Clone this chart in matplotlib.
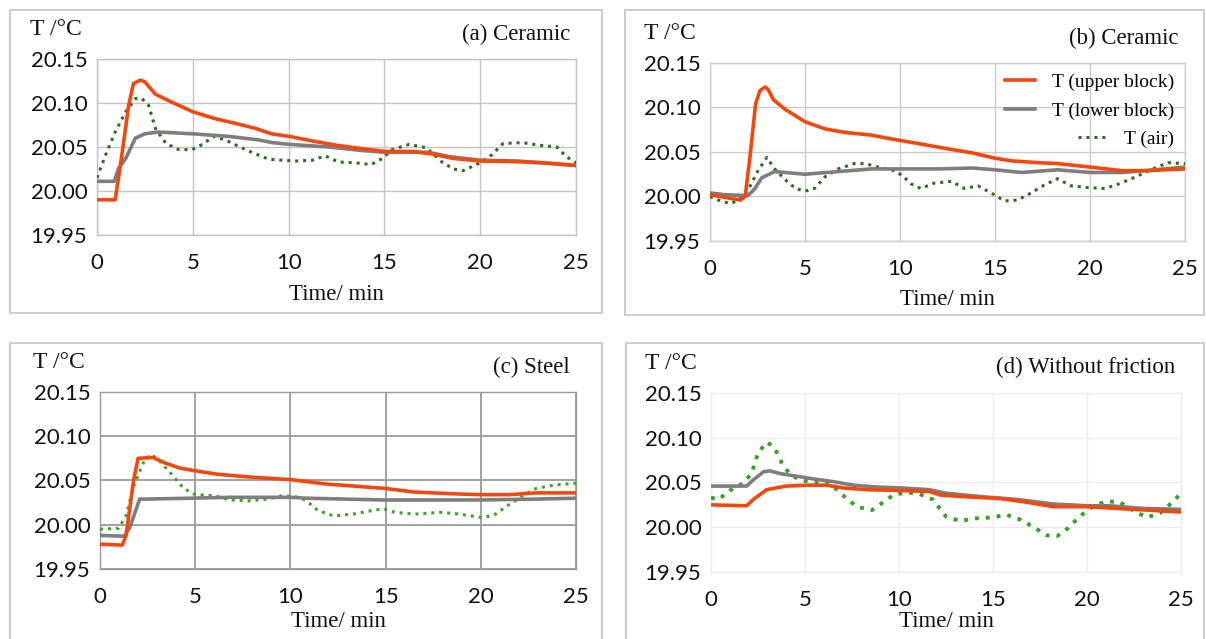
import numpy as np
import matplotlib.pyplot as plt
from matplotlib.patches import Rectangle

W, H = 1206, 639

# ---- (a) Ceramic ----
a_up_t = [0, 0.95, 1.3, 1.65, 1.9, 2.26, 2.5, 3.05, 3.9, 5.0, 6.2, 7.2, 8.3, 9.1, 10.05, 11.2,
          12.5, 13.85, 15.0, 16.5, 17.5, 18.6, 19.6, 20.07, 21.7, 23.4, 25]
a_up = [19.990, 19.990, 20.041, 20.097, 20.122, 20.126, 20.124, 20.110, 20.101, 20.090, 20.082,
        20.077, 20.071, 20.065, 20.062, 20.057, 20.052, 20.048, 20.045, 20.045, 20.042, 20.037,
        20.035, 20.034, 20.0335, 20.032, 20.029]
a_lo_t = [0, 0.9, 1.13, 1.5, 2.0, 2.5, 3.2, 5.0, 6.9, 8.45, 9.15, 10.05, 12.1, 13.85, 15.0, 17.3,
          18.4, 20.0, 22.0, 25]
a_lo = [20.011, 20.011, 20.026, 20.037, 20.060, 20.065, 20.067, 20.065, 20.062, 20.058, 20.055,
        20.053, 20.050, 20.046, 20.044, 20.044, 20.039, 20.035, 20.034, 20.029]
a_air_t = [0, 0.45, 0.95, 1.5, 2.0, 2.35, 2.7, 3.05, 3.6, 4.27, 4.97, 5.5, 6.1, 6.7, 7.75, 8.97,
           10.4, 11.25, 11.9, 12.6, 13.5, 14.3, 14.9, 15.4, 16.3, 17.2, 18.0, 18.6, 19.1, 19.8,
           20.5, 21.2, 22.2, 23.1, 24.0, 24.5, 25]
a_air = [20.015, 20.041, 20.067, 20.090, 20.105, 20.105, 20.097, 20.071, 20.054, 20.047, 20.047,
         20.053, 20.062, 20.058, 20.047, 20.036, 20.034, 20.035, 20.040, 20.033, 20.032, 20.030,
         20.037, 20.047, 20.053, 20.049, 20.033, 20.025, 20.023, 20.030, 20.039, 20.054, 20.055,
         20.052, 20.050, 20.039, 20.032]

# ---- (b) Ceramic ----
b_up_t = [0, 0.8, 1.6, 1.85, 2.1, 2.4, 2.63, 2.9, 3.07, 3.33, 3.95, 5.0, 6.05, 7.1, 8.5, 9.2, 10.0,
          11.1, 12.4, 13.8, 15.0, 15.9, 17.3, 18.3, 20.0, 21.7, 22.9, 23.9, 25]
b_up = [20.002, 19.999, 19.996, 20.000, 20.044, 20.104, 20.119, 20.123, 20.120, 20.109, 20.098,
        20.084, 20.076, 20.072, 20.069, 20.066, 20.063, 20.059, 20.054, 20.049, 20.043, 20.040,
        20.038, 20.037, 20.033, 20.029, 20.029, 20.030, 20.031]
b_lo_t = [0, 0.8, 2.0, 2.37, 2.72, 3.4, 3.95, 5.0, 6.75, 8.5, 10.3, 12.0, 13.8, 15.0, 16.4, 18.3,
          20.0, 21.7, 23.4, 25]
b_lo = [20.004, 20.002, 20.001, 20.009, 20.021, 20.028, 20.027, 20.025, 20.028, 20.031, 20.031,
        20.031, 20.032, 20.030, 20.027, 20.030, 20.027, 20.027, 20.030, 20.033]
b_air_t = [0, 0.44, 1.05, 1.5, 2.0, 2.55, 3.0, 3.4, 3.95, 4.5, 5.0, 5.5, 6.05, 6.75, 7.6, 8.16,
           8.86, 9.56, 10.1, 10.6, 11.1, 11.8, 12.7, 13.4, 14.1, 14.8, 15.5, 16.2, 16.9, 17.6,
           18.3, 19.0, 19.9, 20.8, 21.5, 22.4, 23.2, 24.1, 25]
b_air = [20.000, 19.996, 19.992, 19.996, 20.007, 20.030, 20.044, 20.031, 20.019, 20.009, 20.006,
         20.009, 20.022, 20.031, 20.037, 20.037, 20.033, 20.030, 20.024, 20.014, 20.009, 20.015,
         20.017, 20.009, 20.012, 20.004, 19.995, 19.996, 20.004, 20.013, 20.020, 20.012, 20.010,
         20.009, 20.014, 20.022, 20.030, 20.038, 20.037]

# ---- (c) Steel ----
c_up_t = [0, 1.17, 1.37, 1.77, 2.0, 2.78, 3.39, 4.2, 5.0, 6.2, 7.8, 10.0, 11.9, 15.0, 16.5, 18.5,
          20.0, 21.5, 22.9, 25]
c_up = [19.978, 19.977, 19.988, 20.051, 20.075, 20.076, 20.070, 20.064, 20.061, 20.057, 20.054,
        20.051, 20.046, 20.041, 20.037, 20.035, 20.034, 20.034, 20.036, 20.036]
c_lo_t = [0, 1.27, 1.57, 2.08, 2.4, 4.8, 6.8, 10.0, 10.85, 14.9, 20.0, 22.9, 25]
c_lo = [19.988, 19.987, 19.997, 20.029, 20.029, 20.030, 20.031, 20.031, 20.030, 20.028, 20.028,
        20.029, 20.030]
c_air_t = [0, 0.97, 1.37, 1.77, 2.28, 2.68, 3.08, 3.6, 4.4, 5.0, 6.0, 6.8, 7.8, 8.8, 9.6, 10.44,
           10.85, 11.45, 12.26, 13.27, 14.27, 14.9, 15.5, 16.5, 17.9, 18.9, 20.1, 20.7, 21.5, 22.3,
           22.9, 23.9, 25]
c_air = [19.995, 19.996, 20.010, 20.044, 20.070, 20.080, 20.073, 20.061, 20.041, 20.034, 20.033,
         20.028, 20.027, 20.029, 20.033, 20.031, 20.027, 20.016, 20.010, 20.012, 20.016, 20.018,
         20.014, 20.012, 20.014, 20.012, 20.008, 20.011, 20.023, 20.034, 20.041, 20.045, 20.047]

# ---- (d) Without friction ----
d_up_t = [0, 1.9, 2.25, 2.96, 4.0, 5.1, 6.15, 7.0, 8.3, 10.05, 11.6, 12.2, 13.6, 15.4, 16.8, 18.2,
          20.0, 21.6, 23.35, 25]
d_up = [20.025, 20.024, 20.031, 20.042, 20.046, 20.047, 20.047, 20.044, 20.042, 20.041, 20.040,
        20.036, 20.034, 20.032, 20.028, 20.023, 20.023, 20.021, 20.019, 20.017]
d_lo_t = [0, 1.9, 2.25, 2.8, 3.14, 3.67, 4.56, 5.44, 6.5, 7.57, 8.8, 10.05, 11.6, 12.5, 14.5, 16.3,
          18.2, 20.0, 21.2, 23.0, 25]
d_lo = [20.046, 20.046, 20.053, 20.062, 20.063, 20.060, 20.057, 20.054, 20.051, 20.047, 20.045,
        20.044, 20.042, 20.038, 20.034, 20.031, 20.026, 20.024, 20.024, 20.021, 20.020]
d_air_t = [0, 0.4, 1.0, 1.7, 2.16, 2.5, 2.96, 3.35, 3.76, 4.2, 4.73, 5.44, 6.33, 7.0, 7.75, 8.55,
           9.1, 9.7, 10.4, 11.1, 11.8, 12.5, 13.25, 14.1, 15.0, 15.7, 16.4, 17.1, 17.85, 18.4,
           19.0, 19.6, 20.3, 21.0, 21.75, 22.5, 23.2, 23.9, 24.6, 25]
d_air = [20.033, 20.031, 20.041, 20.049, 20.060, 20.083, 20.095, 20.090, 20.072, 20.059, 20.053,
         20.050, 20.049, 20.036, 20.023, 20.019, 20.027, 20.036, 20.039, 20.037, 20.031, 20.012,
         20.007, 20.010, 20.011, 20.014, 20.009, 20.001, 19.991, 19.990, 19.999, 20.012, 20.023,
         20.029, 20.028, 20.018, 20.011, 20.016, 20.029, 20.038]

titles = ['(a) Ceramic', '(b) Ceramic', '(c) Steel', '(d) Without friction']
legend_labels = ['T (upper block)', 'T (lower block)', 'T (air)']
x_ticks = [0, 5, 10, 15, 20, 25]
y_ticks = [19.95, 20.00, 20.05, 20.10, 20.15]

ORANGE = '#f4470e'
GREY = '#7e7e7e'
SERIF = 'Liberation Serif'
SANS = 'Lato'

fig = plt.figure(figsize=(W / 100, H / 100), dpi=100)


def px_axes(x0, y0, x1, y1):
    return fig.add_axes([x0 / W, 1 - y1 / H, (x1 - x0) / W, (y1 - y0) / H])


def frame(x0, y0, x1, y1):
    fig.add_artist(Rectangle((x0 / W, 1 - y1 / H), (x1 - x0) / W, (y1 - y0) / H,
                             transform=fig.transFigure, fill=False, ec='#c4c4c4', lw=1.2))


frame(10, 10, 602, 313)
frame(625, 10, 1204, 315)
frame(10, 343, 602, 680)
frame(626, 343, 1204, 680)

# axes, grid colour, air colour, air dash, air width, xlabel pad
panels = [
    (px_axes(97, 59, 576, 235), a_up_t, a_up, a_lo_t, a_lo, a_air_t, a_air, '#c4c4c4', '#2f6b22', (0, (1, 1.6)), 2.2, 8),
    (px_axes(710, 63, 1185, 241), b_up_t, b_up, b_lo_t, b_lo, b_air_t, b_air, '#cccccc', '#2f6b22', (0, (1, 1.6)), 2.2, 7),
    (px_axes(100, 392, 576, 569), c_up_t, c_up, c_lo_t, c_lo, c_air_t, c_air, '#9a9a9a', '#43a02a', (0, (1, 1.6)), 2.2, 3),
    (px_axes(711, 393, 1181, 572), d_up_t, d_up, d_lo_t, d_lo, d_air_t, d_air, '#ececec', '#35a02a', (0, (1, 1.8)), 2.8, 1),
]

for i, (ax, ut, u, lt, l, at, a, gcol, acol, ls, alw, lpad) in enumerate(panels):
    ax.plot(at, a, color=acol, lw=alw, ls=ls, label=legend_labels[2], zorder=3)
    ax.plot(lt, l, color=GREY, lw=2.6, label=legend_labels[1], zorder=4)
    ax.plot(ut, u, color=ORANGE, lw=2.6, label=legend_labels[0], zorder=5)

    ax.set_xlim(0, 25)
    ax.set_ylim(19.95, 20.15)
    ax.set_xticks(x_ticks)
    ax.set_yticks(y_ticks)
    ax.set_yticklabels(['%.2f' % v for v in y_ticks])
    ax.grid(True, color=gcol, lw=1.3 if i == 2 else 1.0)
    ax.set_axisbelow(True)
    for s in ax.spines.values():
        s.set_color(gcol)
        s.set_linewidth(1.0)
    ax.tick_params(length=0, labelsize=16, colors='#111111')
    ax.tick_params(axis='x', pad=13)
    ax.tick_params(axis='y', pad=7)
    for lab in ax.get_xticklabels() + ax.get_yticklabels():
        lab.set_family(SANS)

    ax.set_xlabel('Time/ min', family=SERIF, fontsize=16.5, labelpad=lpad, color='#111111')
    ax.text(-0.14, 1.165, 'T /°C', transform=ax.transAxes, family=SERIF, fontsize=17,
            ha='left', va='center', color='#111111')
    ax.text(0.987, 1.14, titles[i], transform=ax.transAxes, family=SERIF, fontsize=16.5,
            ha='right', va='center', color='#111111')

# legend only on (b)
ax_b = panels[1][0]
h, lab = ax_b.get_legend_handles_labels()
leg = ax_b.legend(h[::-1], lab[::-1], loc='upper right', frameon=False,
                  prop={'family': SERIF, 'size': 14}, handlelength=1.5,
                  handletextpad=0.9, labelspacing=0.55, borderaxespad=0.15)
leg._legend_handle_box.get_children()[0].align = 'right'

fig.savefig('out.png', dpi=100)
